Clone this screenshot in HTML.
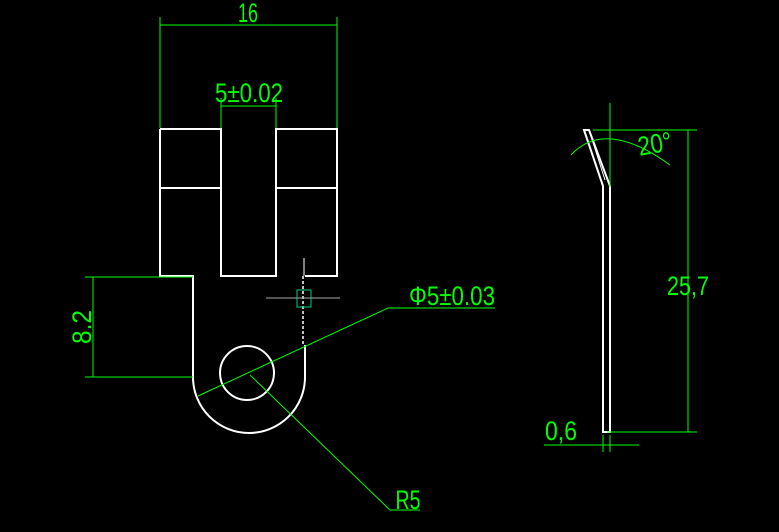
<!DOCTYPE html>
<html><head><style>html,body{margin:0;padding:0;background:#000;width:779px;height:532px;overflow:hidden}</style></head>
<body>
<svg width="779" height="532" viewBox="0 0 779 532" xmlns="http://www.w3.org/2000/svg" font-family="Liberation Sans Narrow, Liberation Sans, sans-serif">
<g stroke="#fff" stroke-width="2" fill="none">
<path d="M160,129 H221 V276 H276 V129 H337 V276 H305"/>
<path d="M160,129 V276 H193 V377"/>
<path d="M160,188 H221 M276,188 H337"/>
<path d="M193,377 A55,55 0 0 0 305,377 V345"/>
<circle cx="247" cy="373" r="27"/>
<path d="M303,276 V345" stroke-dasharray="3,2" stroke-width="1.5"/>
<path d="M304,258 V276" stroke-width="1"/>
<path d="M603,186 V432 H610 V186 L589,130 H584 Z" stroke-width="2"/>
<path d="M589,130 L605,180" stroke-width="1"/>
</g>
<path d="M266,298 H340" stroke="#aaa" stroke-width="1"/>
<g stroke="#0f0" stroke-width="1" fill="none">
<path d="M160,17 V128 M337,17 V128 M160,25 H337"/>
<path d="M221,98 V128 M276,98 V128 M221,106 H276"/>
<path d="M85,277 H193 M85,377 H193 M93,277 V377"/>
<path d="M198,396 L388,308 H495"/>
<path d="M250,375 L390,510 H420"/>
<rect x="297" y="290" width="14" height="17" stroke="#0c8"/>
<path d="M610,103 V187 M593,130 H697 M688,130 V432 M607,432 H697"/>
<path d="M571,155 Q605,118 670,165"/>
<path d="M544,445 H639 M603,435 V452 M610,435 V452"/>
</g>
<g fill="#0f0" font-size="27" text-anchor="middle">
<text x="248" y="22" textLength="20" lengthAdjust="spacingAndGlyphs">16</text>
<text x="249" y="102" textLength="68" lengthAdjust="spacingAndGlyphs">5±0.02</text>
<text x="452" y="305" textLength="86" lengthAdjust="spacingAndGlyphs">Φ5±0.03</text>
<text x="408" y="509" textLength="25" lengthAdjust="spacingAndGlyphs">R5</text>
<text x="688" y="295" textLength="42" lengthAdjust="spacingAndGlyphs">25,7</text>
<text x="561" y="440" textLength="32" lengthAdjust="spacingAndGlyphs">0,6</text>
<text x="655" y="153" textLength="34" lengthAdjust="spacingAndGlyphs" transform="rotate(-10 655 145)">20°</text>
<text transform="translate(91,327) rotate(-90)" textLength="34" lengthAdjust="spacingAndGlyphs">8.2</text>
</g>
</svg>
</body></html>
